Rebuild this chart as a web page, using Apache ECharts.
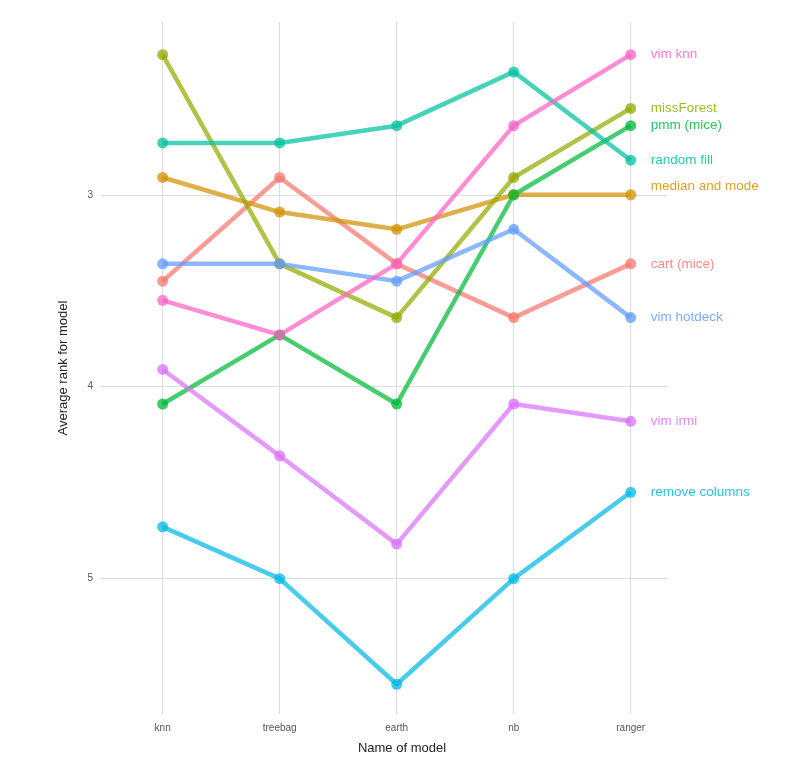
<!DOCTYPE html>
<html>
<head>
<meta charset="utf-8">
<script src="https://cdn.jsdelivr.net/npm/echarts@6/dist/echarts.min.js"></script>
<style>
  html, body { margin: 0; padding: 0; background: #fff; }
  #chart { width: 798px; height: 782px; }
</style>
</head>
<body>
<div id="chart"></div>
<script>
// models on the x axis
var models = ["knn", "treebag", "earth", "nb", "ranger"];
var yTicks = [3, 4, 5];

// average rank per imputation method, in model order
var cartMice = [3.45, 2.91, 3.36, 3.64, 3.36];
var medianMode = [2.91, 3.09, 3.18, 3.00, 3.00];
var missForest = [2.27, 3.36, 3.64, 2.91, 2.55];
var pmmMice = [4.09, 3.73, 4.09, 3.00, 2.64];
var randomFill = [2.73, 2.73, 2.64, 2.36, 2.82];
var removeColumns = [4.73, 5.00, 5.55, 5.00, 4.55];
var vimHotdeck = [3.36, 3.36, 3.45, 3.18, 3.64];
var vimIrmi = [3.91, 4.36, 4.82, 4.09, 4.18];
var vimKnn = [3.55, 3.73, 3.36, 2.64, 2.27];

var methods = [
  { name: "cart (mice)", data: cartMice, color: "#F8766D" },
  { name: "median and mode", data: medianMode, color: "#D39200", dy: -8 },
  { name: "missForest", data: missForest, color: "#93AA00" },
  { name: "pmm (mice)", data: pmmMice, color: "#00BA38" },
  { name: "random fill", data: randomFill, color: "#00C19F" },
  { name: "remove columns", data: removeColumns, color: "#00B9E3" },
  { name: "vim hotdeck", data: vimHotdeck, color: "#619CFF" },
  { name: "vim irmi", data: vimIrmi, color: "#DB72FB" },
  { name: "vim knn", data: vimKnn, color: "#FF61C3" }
];

var xIdx = models.map(function (m, i) { return i; });

var chart = echarts.init(document.getElementById("chart"));
chart.setOption({
  backgroundColor: "#fff",
  animation: false,
  textStyle: { fontFamily: "Liberation Sans, Arial, sans-serif" },
  grid: { left: 101, right: 131, top: 22, bottom: 68 },
  xAxis: {
    type: "value",
    min: -0.527,
    max: 4.31,
    name: "Name of model",
    nameLocation: "middle",
    nameGap: 28,
    nameTextStyle: { color: "#222", fontSize: 13, padding: [0, 0, 0, 36] },
    axisLine: { show: false },
    axisTick: { show: false, customValues: xIdx },
    axisLabel: {
      color: "#555",
      fontSize: 10,
      margin: 9,
      customValues: xIdx,
      formatter: function (v) {
        return models[Math.round(v)] || "";
      }
    },
    splitLine: {
      show: true,
      lineStyle: { color: "#dedede", width: 1.2 }
    }
  },
  yAxis: {
    type: "value",
    inverse: true,
    min: 2.10,
    max: 5.705,
    name: "Average rank for model",
    nameLocation: "middle",
    nameGap: 31,
    nameRotate: 90,
    nameTextStyle: { color: "#222", fontSize: 13 },
    axisLine: { show: false },
    axisTick: { show: false, customValues: yTicks },
    axisLabel: {
      color: "#555",
      fontSize: 10,
      margin: 8,
      customValues: yTicks
    },
    splitLine: {
      show: true,
      lineStyle: { color: "#dedede", width: 1.2 }
    }
  },
  series: methods.map(function (m) {
    return {
      name: m.name,
      type: "line",
      data: m.data.map(function (v, i) { return [i, v]; }),
      symbol: "circle",
      symbolSize: 11,
      lineStyle: { color: m.color, width: 4.5, opacity: 0.72 },
      itemStyle: { color: m.color, opacity: 0.75 },
      endLabel: {
        show: true,
        formatter: m.name,
        color: m.color,
        opacity: 0.85,
        fontSize: 13.5,
        distance: 20,
        offset: [0, m.dy || 0]
      }
    };
  })
});
</script>
</body>
</html>
